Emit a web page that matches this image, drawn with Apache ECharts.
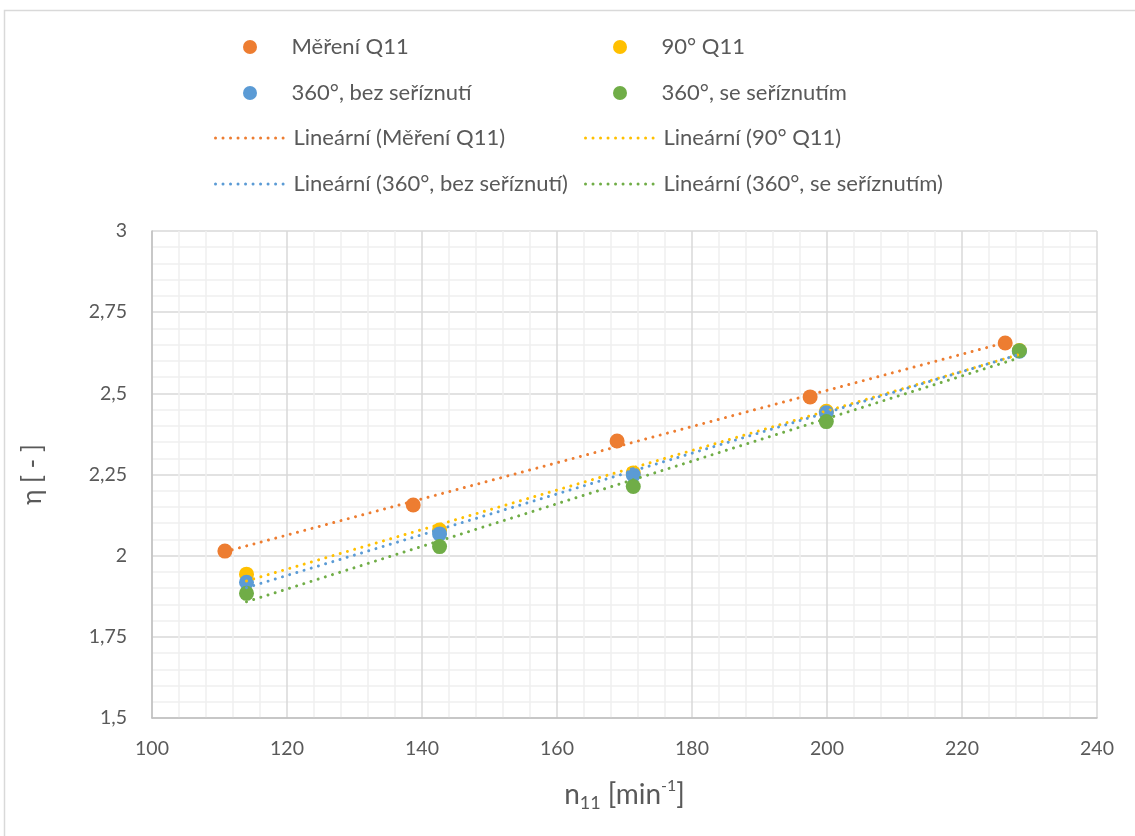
<!DOCTYPE html>
<html>
<head>
<meta charset="utf-8">
<script src="https://cdn.jsdelivr.net/npm/echarts@6/dist/echarts.min.js"></script>
<style>
html,body{margin:0;padding:0;background:#fff;}
#chart{width:1135px;height:836px;}
</style>
</head>
<body>
<div id="chart"></div>
<script>
// ---- data ----
const seriesNames = ['Měření Q11', '90° Q11', '360°, bez seříznutí', '360°, se seříznutím'];
const trendNames = ['Lineární (Měření Q11)', 'Lineární (90° Q11)', 'Lineární (360°, bez seříznutí)', 'Lineární (360°, se seříznutím)'];
const xMereni = [110.8, 138.7, 168.9, 197.5, 226.4];
const yMereni = [2.014, 2.156, 2.353, 2.489, 2.655];
const x360 = [114.0, 142.6, 171.3, 199.9, 228.5];
const y90 = [1.943, 2.079, 2.255, 2.445, 2.632];
const yBez = [1.918, 2.067, 2.249, 2.440, 2.630];
const ySe = [1.884, 2.028, 2.213, 2.413, 2.631];
const xTicks = [100, 120, 140, 160, 180, 200, 220, 240];
const yTicks = [1.5, 1.75, 2, 2.25, 2.5, 2.75, 3];

const colors = ['#ED7D31', '#FFC000', '#5B9BD5', '#70AD47'];
const xs = [xMereni, x360, x360, x360];
const ys = [yMereni, y90, yBez, ySe];

function pairs(x, y) { return x.map((v, i) => [v, y[i]]); }
function trend(x, y) {
  const n = x.length;
  const mx = x.reduce((a, b) => a + b, 0) / n;
  const my = y.reduce((a, b) => a + b, 0) / n;
  let sxy = 0, sxx = 0;
  for (let i = 0; i < n; i++) { sxy += (x[i] - mx) * (y[i] - my); sxx += (x[i] - mx) ** 2; }
  const k = sxy / sxx, q = my - k * mx;
  const x0 = Math.min(...x), x1 = Math.max(...x);
  return [[x0, k * x0 + q], [x1, k * x1 + q]];
}

const FONT = 'Lato';
const DOTS = [0.01, 7.5];
const series = [];
for (let i = 0; i < 4; i++) {
  series.push({
    name: seriesNames[i], type: 'scatter', data: pairs(xs[i], ys[i]),
    symbol: 'circle', symbolSize: 15, itemStyle: { color: colors[i], opacity: 1 }, z: 2 + i
  });
}
for (let i = 0; i < 4; i++) {
  series.push({
    name: trendNames[i], type: 'line', data: trend(xs[i], ys[i]),
    symbol: 'none', showSymbol: false, z: 10 + i,
    lineStyle: { color: colors[i], width: 3, type: DOTS, cap: 'round' },
    itemStyle: { color: colors[i] }
  });
}

const rowsY = [47, 93, 138, 184];
const colX = [214, 584];
const legends = [];
const LTEXT = { fontFamily: FONT, fontSize: 22, color: '#595959', lineHeight: 26 };
for (let i = 0; i < 4; i++) {
  // scatter legend: circle centred in a 73px slot; bbox starts at circle
  legends.push({
    data: [{ name: seriesNames[i], icon: 'circle' }],
    left: colX[i % 2] + 29, top: rowsY[Math.floor(i / 2)] - 13,
    itemWidth: 73, itemHeight: 14, itemGap: 0, padding: 0,
    textStyle: LTEXT
  });
}
for (let i = 0; i < 4; i++) {
  legends.push({
    data: [{ name: trendNames[i] }],
    left: colX[i % 2], top: rowsY[2 + Math.floor(i / 2)] - 13,
    itemWidth: 73, itemHeight: 14, itemGap: 0, padding: 0,
    itemStyle: { opacity: 0, color: 'rgba(0,0,0,0)', borderWidth: 0 },
    lineStyle: { width: 3, type: DOTS, cap: 'round', color: colors[i], opacity: 1 },
    textStyle: LTEXT
  });
}

const chart = echarts.init(document.getElementById('chart'), null, { renderer: 'canvas' });
chart.setOption({
  animation: false,
  backgroundColor: '#fff',
  graphic: [{
    type: 'rect', shape: { x: 4.5, y: 10.5, width: 1200, height: 900 },
    style: { fill: 'none', stroke: '#D9D9D9', lineWidth: 1.5 }, silent: true
  }],
  legend: legends,
  grid: { left: 152, right: 38, top: 231, bottom: 118, containLabel: false },
  xAxis: {
    type: 'value', min: xTicks[0], max: xTicks[xTicks.length - 1], interval: 20,
    axisLine: { show: true, lineStyle: { color: '#BFBFBF', width: 1.5 } },
    axisTick: { show: false },
    axisLabel: { fontFamily: FONT, fontSize: 19.5, color: '#595959', margin: 21 },
    splitLine: { show: true, lineStyle: { color: '#D9D9D9', width: 1.5 } },
    minorTick: { show: false, splitNumber: 5 },
    minorSplitLine: { show: true, lineStyle: { color: '#F0F0F0', width: 1.5 } },
    name: '{n|n}{sub|11}{n| [min}{sup|-1}{n|]}',
    nameLocation: 'middle', nameGap: 60,
    nameTextStyle: {
      fontFamily: FONT, color: '#595959',
      rich: {
        n: { fontFamily: FONT, fontSize: 28, color: '#595959', lineHeight: 34, verticalAlign: 'middle' },
        sub: { fontFamily: FONT, fontSize: 18, color: '#595959', lineHeight: 34, verticalAlign: 'bottom', padding: [13, 0, 0, 0] },
        sup: { fontFamily: FONT, fontSize: 16, color: '#595959', lineHeight: 34, verticalAlign: 'top', padding: [0, 0, 13, 0] }
      }
    }
  },
  yAxis: {
    type: 'value', min: yTicks[0], max: yTicks[yTicks.length - 1], interval: 0.25,
    axisLine: { show: true, lineStyle: { color: '#BFBFBF', width: 1.5 } },
    axisTick: { show: false },
    axisLabel: {
      fontFamily: FONT, fontSize: 19.5, color: '#595959', margin: 25,
      formatter: v => String(+v.toFixed(2)).replace('.', ',')
    },
    splitLine: { show: true, lineStyle: { color: '#D9D9D9', width: 1.5 } },
    minorTick: { show: false, splitNumber: 5 },
    minorSplitLine: { show: true, lineStyle: { color: '#F0F0F0', width: 1.5 } },
    name: 'η [ - ]', nameLocation: 'middle', nameGap: 106, nameRotate: 90,
    nameTextStyle: { fontFamily: FONT, fontSize: 26, color: '#595959' }
  },
  series: series
});
</script>
</body>
</html>
